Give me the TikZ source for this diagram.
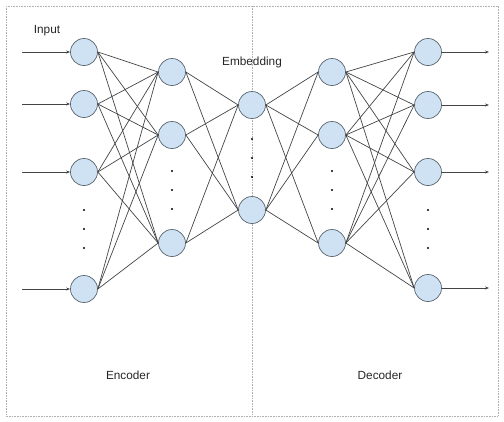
\documentclass[tikz,border=0pt]{standalone}
\usepackage{fontspec}
\setmainfont{Liberation Sans}
\usetikzlibrary{arrows.meta}
\definecolor{nodefill}{HTML}{CFE2F3}
\definecolor{nodeline}{HTML}{5B6570}
\definecolor{edgecol}{HTML}{444444}
\definecolor{framecol}{HTML}{B0B0B0}
\begin{document}
\begin{tikzpicture}[x=1pt,y=-1pt,
  neuron/.style={circle,draw=nodeline,fill=nodefill,line width=0.7pt,minimum size=27pt,inner sep=0pt},
  edge/.style={draw=edgecol,line width=0.7pt},
  io/.style={draw=edgecol,line width=0.7pt,-{Stealth[length=4pt,width=3pt]}},
  frame/.style={draw=framecol,line width=0.6pt,densely dotted},
  dotmark/.style={circle,fill=black,inner sep=0pt,minimum size=2.2pt},
  lbl/.style={font=\fontsize{11.8}{14}\selectfont,text=black!85}]
\useasboundingbox (0,0) rectangle (504,421);
\draw[frame] (6,6) rectangle (498,416);
\coordinate (dtop) at (252,6);
\coordinate (dbot) at (252,416);
\draw[frame] (dtop) -- (dbot);

% layer 1
\node[neuron] (a1) at (84,52) {};
\node[neuron] (a2) at (84,104) {};
\node[neuron] (a3) at (84,172) {};
\node[neuron] (a4) at (84,289) {};
% layer 2
\node[neuron] (b1) at (172,72) {};
\node[neuron] (b2) at (172,135) {};
\node[neuron] (b3) at (172,243) {};
% layer 3
\node[neuron] (c1) at (252,105) {};
\node[neuron] (c2) at (252,210) {};
% layer 4
\node[neuron] (d1) at (332,72) {};
\node[neuron] (d2) at (332,135) {};
\node[neuron] (d3) at (332,243) {};
% layer 5
\node[neuron] (e1) at (428,52) {};
\node[neuron] (e2) at (428,105) {};
\node[neuron] (e3) at (428,172) {};
\node[neuron] (e4) at (428,288) {};

% dots
\foreach \y [count=\i] in {210,229,248} {
  \node[dotmark] (da\i) at (84,\y) {};
  \node[dotmark] (de\i) at (428,\y) {};
}
\foreach \y [count=\i] in {171,190,209} {
  \node[dotmark] (db\i) at (172,\y) {};
  \node[dotmark] (dd\i) at (332,\y) {};
}
\foreach \y [count=\i] in {139,158,177} {
  \node[dotmark] (dc\i) at (252,\y) {};
}

% edges
\foreach \s in {a1,a2,a3,a4} \foreach \t in {b1,b2,b3} \draw[edge] (\s.east) -- (\t.west);
\foreach \s in {b1,b2,b3} \foreach \t in {c1,c2} \draw[edge] (\s.east) -- (\t.west);
\foreach \s in {c1,c2} \foreach \t in {d1,d2,d3} \draw[edge] (\s.east) -- (\t.west);
\foreach \s in {d1,d2,d3} \foreach \t in {e1,e2,e3,e4} \draw[edge] (\s.east) -- (\t.west);

% input/output arrows
\foreach \n/\y in {a1/52,a2/104,a3/172,a4/289} {
  \coordinate (in\n) at (22,\y);
  \draw[io] (in\n) -- (\n.west);
}
\foreach \n/\y in {e1/52,e2/105,e3/172,e4/288} {
  \coordinate (out\n) at (489,\y);
  \draw[io] (\n.east) -- (out\n);
}

% labels
\node[lbl] (linput) at (47,31) {Input};
\node[lbl] (lemb) at (252,62) {Embedding};
\node[lbl] (lenc) at (128,375) {Encoder};
\node[lbl] (ldec) at (380,375) {Decoder};
\end{tikzpicture}
\end{document}
